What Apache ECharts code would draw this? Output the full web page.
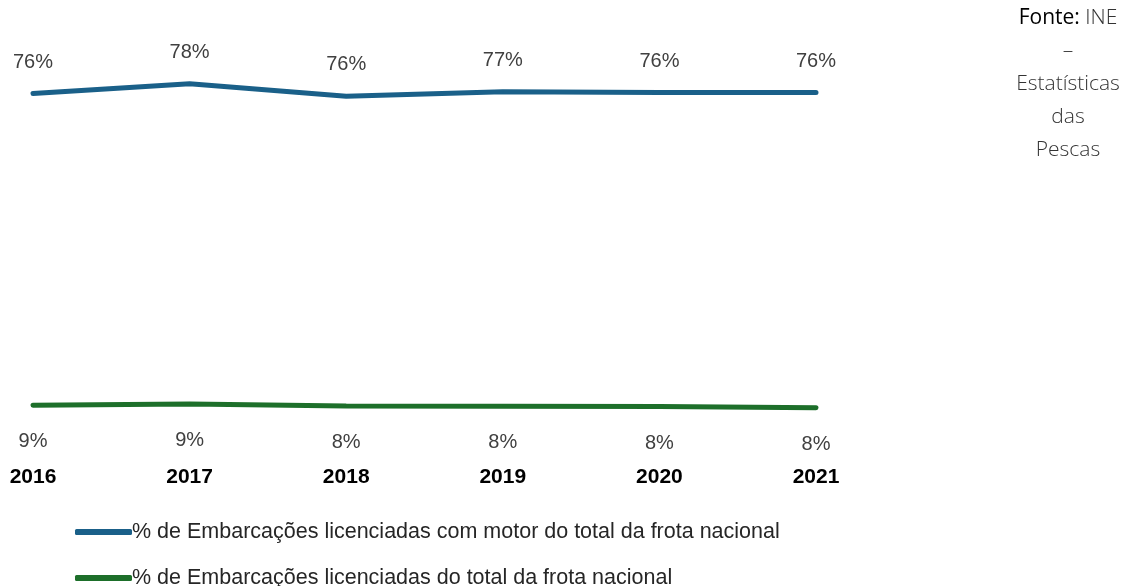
<!DOCTYPE html>
<html>
<head>
<meta charset="utf-8">
<script src="https://cdn.jsdelivr.net/npm/echarts@6/dist/echarts.min.js"></script>
<style>
  html, body { margin: 0; padding: 0; background: #fff; }
  #chart { width: 1135px; height: 586px; }
</style>
</head>
<body>
<div id="chart"></div>
<script>
const years = ['2016', '2017', '2018', '2019', '2020', '2021']
// % de embarcações licenciadas com motor do total da frota nacional
const comMotor = [76.2, 78.3, 75.6, 76.6, 76.4, 76.4]
// % de embarcações licenciadas do total da frota nacional
const licenciadas = [8.6, 8.9, 8.45, 8.4, 8.35, 8.1]

const nomeMotor = '% de Embarcações licenciadas com motor do total da frota nacional'
const nomeLic = '% de Embarcações licenciadas do total da frota nacional'

const chart = echarts.init(document.getElementById('chart'))

const pct = (p) => Math.round(p.value) + '%'

const legendBase = {
  orient: 'vertical',
  left: 70,
  itemWidth: 57,
  itemHeight: 6,
  icon: 'roundRect',
  textStyle: {
    fontFamily: 'Liberation Sans',
    fontSize: 21.5,
    color: '#262626',
    padding: [0, 0, 0, -5],
  },
}

chart.setOption({
  animation: false,
  grid: { left: 33, right: 319, top: 76, bottom: 141 },
  xAxis: {
    type: 'category',
    data: years,
    boundaryGap: false,
    axisLine: { show: false },
    axisTick: { show: false },
    axisLabel: {
      margin: 22,
      fontFamily: 'Liberation Sans',
      fontWeight: 'bold',
      fontSize: 21,
      color: '#000',
    },
  },
  yAxis: {
    type: 'value',
    min: 0,
    max: 80,
    show: false,
    splitLine: { show: false },
  },
  legend: [
    Object.assign({}, legendBase, { top: 516, data: [nomeMotor] }),
    Object.assign({}, legendBase, { top: 562, data: [nomeLic] }),
  ],
  series: [
    {
      name: nomeMotor,
      type: 'line',
      data: comMotor,
      symbol: 'circle',
      symbolSize: 1,
      lineStyle: { width: 5, color: '#1a6089', cap: 'round' },
      itemStyle: { color: '#1a6089' },
      label: {
        show: true,
        position: 'top',
        distance: 21,
        formatter: pct,
        fontFamily: 'Liberation Sans',
        fontSize: 20,
        color: '#404040',
      },
    },
    {
      name: nomeLic,
      type: 'line',
      data: licenciadas,
      symbol: 'circle',
      symbolSize: 1,
      lineStyle: { width: 5, color: '#1d6f2a', cap: 'round' },
      itemStyle: { color: '#1d6f2a' },
      label: {
        show: true,
        position: 'bottom',
        distance: 26,
        formatter: pct,
        fontFamily: 'Liberation Sans',
        fontSize: 20,
        color: '#404040',
      },
    },
  ],
  graphic: [
    {
      type: 'text',
      x: 1068,
      y: 2,
      style: {
        text: '{b|Fonte:} INE\n–\nEstatísticas\ndas\nPescas',
        align: 'center',
        verticalAlign: 'top',
        fontFamily: 'Open Sans',
        fontWeight: 300,
        fontSize: 21,
        lineHeight: 33,
        fill: '#333',
        rich: {
          b: { fontFamily: 'Open Sans', fontWeight: 400, fontSize: 21, lineHeight: 33, fill: '#000' },
        },
      },
    },
  ],
})
</script>
</body>
</html>
